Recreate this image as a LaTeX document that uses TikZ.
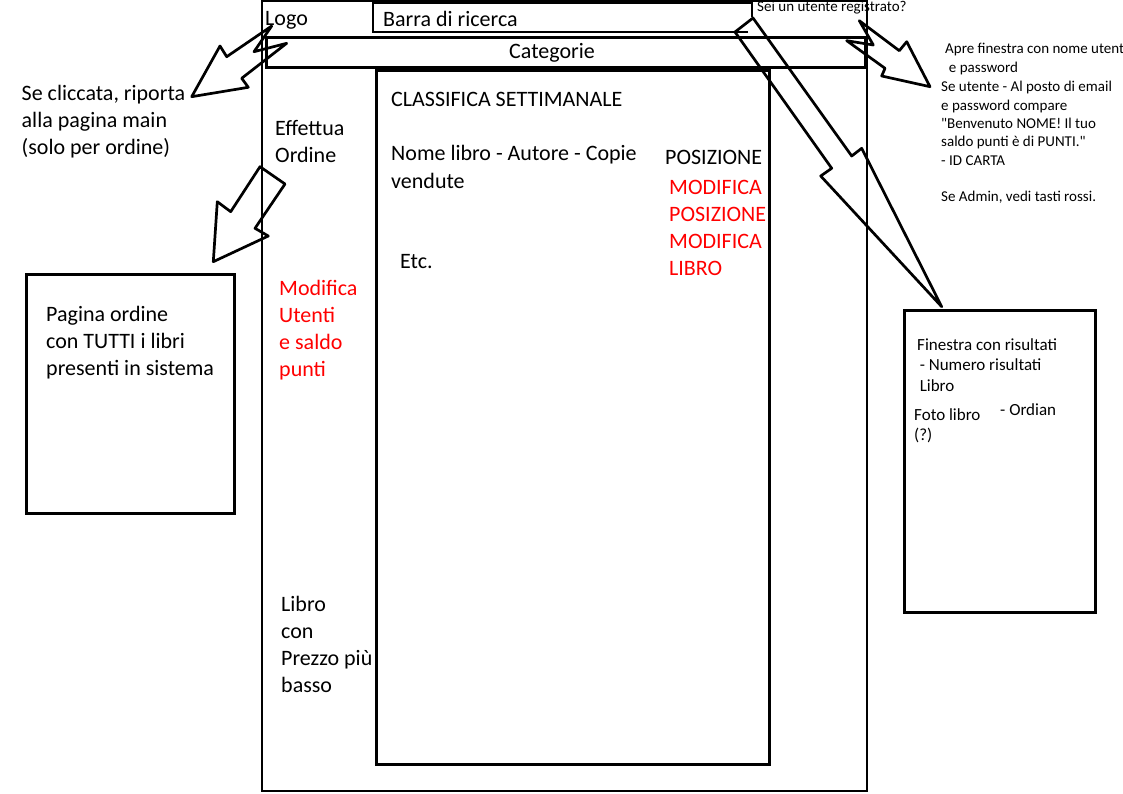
\documentclass[tikz,border=0pt]{standalone}
\usepackage{fontspec}
\setmainfont{Carlito}
\newcommand{\straightquote}{\XeTeXglyph\XeTeXcharglyph"22\relax}
\begin{document}
\begin{tikzpicture}[x=1pt,y=-1pt,
  big/.style={font=\fontsize{22}{27}\selectfont, anchor=base west, inner sep=0pt, align=left},
  small/.style={font=\fontsize{15}{18.3}\selectfont, anchor=base west, inner sep=0pt, align=left},
  mid/.style={font=\fontsize{17}{20.5}\selectfont, anchor=base west, inner sep=0pt, align=left},
  redtext/.style={text=red},
  thinframe/.style={draw, line width=2pt},
  thickbox/.style={draw, line width=3pt},
  blockarrow/.style={draw, line width=2.7pt, line join=round}]
\useasboundingbox (0,0) rectangle (1123,794);

% frames
\draw[thinframe] (261.5,1) rectangle (866.5,791);
\draw[line width=2pt] (748,32) -- (373,32) -- (373,3) -- (752,3) -- (752,17);
\draw[thickbox] (266,38) rectangle (865,68);
\draw[thickbox] (376.5,71) rectangle (769.5,764.5);
\draw[thickbox] (26.5,274) rectangle (234.5,513);
\draw[thickbox] (904,310) rectangle (1095,612);

% texts (anchor = baseline of the last line)
\node[big] (logo) at (265,26) {Logo};
\node[big] (bar) at (383,27) {Barra di ricerca};
\node[big, anchor=base] (cat) at (552,59) {Categorie};
\node[small] (sei) at (757,12) {Sei un utente registrato?};
\node[small] (apre) at (945,72.3) {Apre finestra con nome utente\\\hspace{0.25em}e password};
\node[small] (seutente) at (941,201.8) {Se utente - Al posto di email\\e password compare\\\straightquote Benvenuto NOME! Il tuo\\saldo punti è di PUNTI.\straightquote\\- ID CARTA\\[18.3pt]Se Admin, vedi tasti rossi.};
\node[big] (cliccata) at (21.5,155) {Se cliccata, riporta\\alla pagina main\\(solo per ordine)};
\node[big] (effettua) at (275,163) {Effettua\\Ordine};
\node[big, redtext] (modutenti) at (279,376) {Modifica\\Utenti\\e saldo\\punti};
\node[big] (prezzo) at (281,692) {Libro\\con\\Prezzo più\\basso};
\node[big] (classifica) at (391,107) {CLASSIFICA SETTIMANALE};
\node[big, font=\fontsize{22}{28}\selectfont] (nomelibro) at (391,189) {Nome libro - Autore - Copie\\vendute};
\node[big] (etc) at (400,268) {Etc.};
\node[big] (posizione) at (665,165) {POSIZIONE};
\node[big, redtext] (modpos) at (669,275) {MODIFICA\\POSIZIONE\\MODIFICA\\LIBRO};
\node[big] (pagina) at (46,375) {Pagina ordine\\con TUTTI i libri\\presenti in sistema};
\node[mid] (finestra) at (917,391) {Finestra con risultati\\\hspace{0.15em}- Numero risultati\\\hspace{0.15em}Libro};
\node[mid] (foto) at (914,440.5) {Foto libro\\(?)};
\node[mid] (ordian) at (1000,415) {- Ordian};

% hand-drawn block arrows
\draw[blockarrow] (191.7,96.7) -- (220,46) -- (226.7,56.7) -- (271.7,26) -- (254,51.7) -- (286.7,43.3) -- (241.7,78.3) -- (248.3,87.3) -- cycle;
\draw[blockarrow] (260,166.7) -- (285,184) -- (255,228.3) -- (268.3,236) -- (213.3,261.7) -- (217.3,201.7) -- (230.7,211.7) -- cycle;
\draw[blockarrow] (753,18) -- (735,32) -- (831.7,168.3) -- (820.7,176) -- (941.7,306.7) -- (861.7,148.3) -- (851.7,156) -- cycle;
\draw[blockarrow] (859.3,20.7) -- (873.3,45) -- (846.7,40.7) -- (885,68.3) -- (881.7,76) -- (930,86.7) -- (906.7,41.7) -- (899.3,50.7) -- cycle;
\end{tikzpicture}
\end{document}
